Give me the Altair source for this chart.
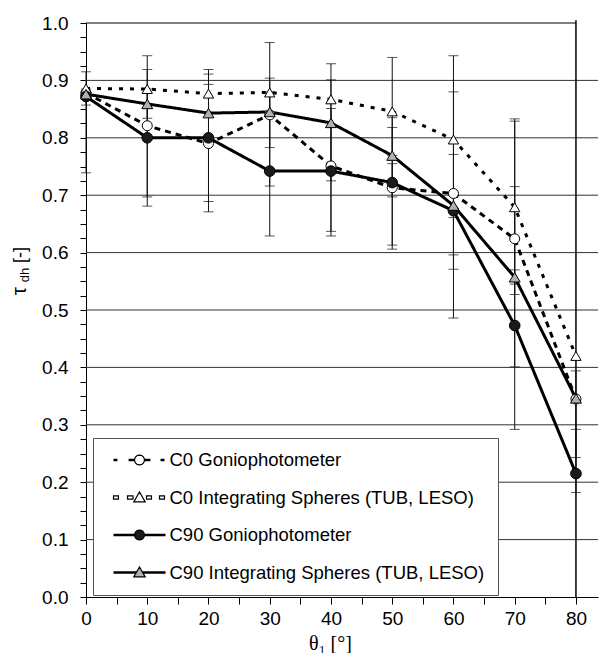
import math
import altair as alt
import pandas as pd

# ---------------- data ----------------
angles = [0, 10, 20, 30, 40, 50, 60, 70, 80]
series_names = [
    "C0 Goniophotometer",
    "C0 Integrating Spheres (TUB, LESO)",
    "C90 Goniophotometer",
    "C90 Integrating Spheres (TUB, LESO)",
]
c0_gonio = [0.878, 0.821, 0.790, 0.840, 0.751, 0.713, 0.703, 0.624, 0.345]
c0_spheres = [0.886, 0.885, 0.877, 0.879, 0.867, 0.846, 0.797, 0.679, 0.420]
c90_gonio = [0.872, 0.800, 0.800, 0.742, 0.742, 0.722, 0.673, 0.473, 0.215]
c90_spheres = [0.876, 0.859, 0.843, 0.845, 0.826, 0.769, 0.682, 0.557, 0.346]

err_angle = [0, 0, 10, 10, 10, 20, 20, 20, 30, 30, 30, 40, 40, 40,
             50, 50, 50, 50, 60, 60, 60, 60, 70, 70, 70, 70, 80, 80]
err_low = [0.739, 0.857, 0.681, 0.697, 0.834, 0.671, 0.689, 0.843, 0.629, 0.716, 0.783,
           0.629, 0.637, 0.725, 0.606, 0.613, 0.697, 0.769, 0.486, 0.571, 0.596, 0.661,
           0.292, 0.401, 0.527, 0.545, 0.182, 0.243]
err_high = [0.915, 0.885, 0.943, 0.919, 0.885, 0.919, 0.911, 0.893, 0.966, 0.904, 0.880,
            0.929, 0.901, 0.851, 0.940, 0.835, 0.755, 0.818, 0.943, 0.880, 0.771, 0.700,
            0.833, 0.829, 0.715, 0.570, 0.394, 0.292]

grid_levels = [0.1, 0.2, 0.3, 0.4, 0.5, 0.6, 0.7, 0.8, 0.9]
x_tick_values = [0, 5, 10, 15, 20, 25, 30, 35, 40, 45, 50, 55, 60, 65, 70, 75, 80]
y_tick_values = [round(i * 0.025, 3) for i in range(41)]
frame_top = [{"x1": 0, "x2": 80, "y": 1.0}]
frame_right = [{"x": 80, "y1": 0.0, "y2": 1.005}]

# ---------------- styles ----------------
dash_range = [[6, 5], [4, 7], [1, 0], [1, 0]]
width_range = [3, 3, 2, 2]
shape_range = ["circle", "triangle-up", "circle", "triangle-up"]
fill_range = ["white", "white", "#1a1a1a", "#b0b0b0"]
size_range = [100, 120, 110, 120]


def hline(x0, x1, t=0.025):
    return f"M{x0},{-t}L{x1},{-t}M{x0},{t}L{x1},{t}"


def hrect(x0, x1, h=0.06):
    return f"M{x0},{-h}L{x1},{-h}L{x1},{h}L{x0},{h}Z"


def circ(r=0.19, n=20):
    pts = [(r * math.cos(2 * math.pi * k / n), r * math.sin(2 * math.pi * k / n)) for k in range(n)]
    return "M" + "L".join(f"{x:.3f},{y:.3f}" for x, y in pts) + "Z"


tri = "M0,-0.21L0.22,0.17L-0.22,0.17Z"
legend_paths = [
    hline(-1, -0.85) + hline(-0.42, -0.19) + hline(0.19, 0.42) + hline(0.81, 0.96) + circ(),
    hrect(-1, -0.81) + hrect(-0.46, -0.25) + hrect(0.27, 0.46) + hrect(0.77, 0.96) + tri,
    hline(-1, -0.19) + hline(0.19, 1) + circ(),
    hline(-1, -0.12) + hline(0.12, 1) + tri,
]

rows = []
for name, vals in zip(series_names, [c0_gonio, c0_spheres, c90_gonio, c90_spheres]):
    for a, v in zip(angles, vals):
        rows.append({"angle": a, "tau": v, "series": name})
df = pd.DataFrame(rows)
err_df = pd.DataFrame({"angle": err_angle, "lo": err_low, "hi": err_high})
grid_df = pd.DataFrame({"level": grid_levels})

x_scale = alt.Scale(domain=[0, 83.6], nice=False, zero=False)
y_scale = alt.Scale(domain=[0, 1], nice=False, zero=False)

x_axis = alt.Axis(
    values=x_tick_values,
    labelExpr="datum.value % 10 == 0 ? datum.label : ''",
    title="θ₁ [°]", titleFont="Liberation Serif", titleFontSize=20, titleFontWeight="normal",
    titleColor="black", titleX=244, titleY=36, titleBaseline="top", titleAlign="center",
    grid=False, tickSize=7, tickColor="black", domainColor="black",
    labelFont="Liberation Sans", labelFontSize=19, labelColor="black", labelPadding=5,
    labelFlush=False, labelOverlap=False,
)
y_axis = alt.Axis(
    values=y_tick_values,
    labelExpr="abs(datum.value*10 - round(datum.value*10)) < 0.01 ? format(datum.value, '.1f') : ''",
    title=None, grid=False, tickSize=6, tickColor="black", domainColor="black",
    labelFont="Liberation Sans", labelFontSize=19, labelColor="black", labelPadding=12,
    labelFlush=False, labelOverlap=False,
)


def X(field):
    return alt.X(field, type="quantitative", scale=x_scale, axis=x_axis)


def Y(field):
    return alt.Y(field, type="quantitative", scale=y_scale, axis=y_axis)


grid = alt.Chart(grid_df).mark_rule(color="#333333", strokeWidth=1).encode(y=Y("level"))
top_border = alt.Chart(pd.DataFrame(frame_top)).mark_rule(color="black", strokeWidth=1.2).encode(
    x=X("x1"), x2="x2:Q", y=Y("y"),
)
right_border = alt.Chart(pd.DataFrame(frame_right)).mark_rule(color="black", strokeWidth=1.5).encode(
    x=X("x"), y=Y("y1"), y2="y2:Q",
)
err_rule = alt.Chart(err_df).mark_rule(color="#111111", strokeWidth=1).encode(
    x=X("angle"), y=Y("lo"), y2="hi:Q",
)
err_lo = alt.Chart(err_df).mark_tick(orient="horizontal", size=10, thickness=1, color="#111111").encode(
    x=X("angle"), y=Y("lo"),
)
err_hi = alt.Chart(err_df).mark_tick(orient="horizontal", size=10, thickness=1, color="#111111").encode(
    x=X("angle"), y=Y("hi"),
)
lines = alt.Chart(df).mark_line(color="black").encode(
    x=X("angle"), y=Y("tau"),
    detail="series:N",
    strokeDash=alt.StrokeDash("series:N", scale=alt.Scale(domain=series_names, range=dash_range), legend=None),
    strokeWidth=alt.StrokeWidth("series:N", scale=alt.Scale(domain=series_names, range=width_range), legend=None),
)
points = alt.Chart(df).mark_point(filled=True, stroke="black", strokeWidth=1, opacity=1).encode(
    x=X("angle"), y=Y("tau"),
    shape=alt.Shape("series:N", scale=alt.Scale(domain=series_names, range=shape_range), legend=None),
    color=alt.Color("series:N", scale=alt.Scale(domain=series_names, range=fill_range), legend=None),
    size=alt.Size("series:N", scale=alt.Scale(domain=series_names, range=size_range), legend=None),
)

leg = alt.Legend(
    title=None, orient="none", legendX=7, legendY=415, padding=13,
    strokeColor="#555555", fillColor="white", cornerRadius=0,
    symbolSize=2704, symbolStrokeWidth=1.2, symbolStrokeColor="black", symbolOpacity=1,
    symbolOffset=6.5, labelOffset=3, labelFont="Liberation Sans", labelFontSize=18.5,
    labelColor="black", labelLimit=500, rowPadding=18.5, clipHeight=18,
)
legend_layer = alt.Chart(df).mark_point(filled=True, opacity=0, strokeWidth=1.2, size=2704).encode(
    x=X("angle"), y=Y("tau"),
    shape=alt.Shape("series:N", scale=alt.Scale(domain=series_names, range=legend_paths), legend=leg),
    color=alt.Color("series:N", scale=alt.Scale(domain=series_names, range=fill_range), legend=leg),
    stroke=alt.Stroke("series:N", scale=alt.Scale(domain=series_names, range=["black"] * 4), legend=leg),
)

title_tau = alt.Chart(pd.DataFrame({"t": ["τ"]})).mark_text(
    angle=270, fontSize=21, font="Liberation Sans", color="black", align="center", baseline="middle"
).encode(text="t:N", x=alt.value(-66), y=alt.value(268))
title_sub = alt.Chart(pd.DataFrame({"t": ["dh"]})).mark_text(
    angle=270, fontSize=13, font="Liberation Sans", color="black", align="center", baseline="middle"
).encode(text="t:N", x=alt.value(-61), y=alt.value(252))
title_unit = alt.Chart(pd.DataFrame({"t": ["[-]"]})).mark_text(
    angle=270, fontSize=18, font="Liberation Sans", color="black", align="center", baseline="middle"
).encode(text="t:N", x=alt.value(-65), y=alt.value(232))

chart = alt.layer(
    grid, top_border, right_border, err_rule, err_lo, err_hi, lines, points, legend_layer,
    title_tau, title_sub, title_unit,
).resolve_scale(
    shape="independent", color="independent", stroke="independent"
).properties(
    width=512, height=574,
    autosize=alt.AutoSizeParams(type="none"),
    padding={"left": 78, "top": 15, "right": 1, "bottom": 56},
    background="white",
).configure_view(strokeWidth=0)

chart.save("out.html", embed_options={"renderer": "svg", "actions": False})
